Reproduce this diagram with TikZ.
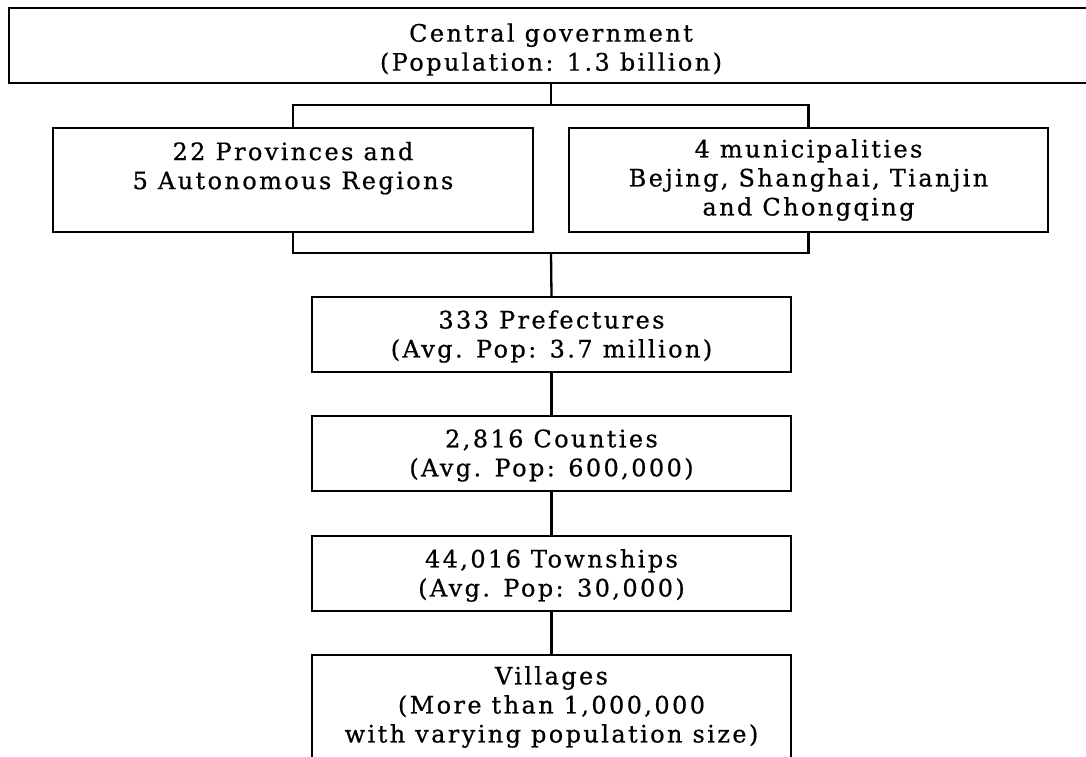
\documentclass[tikz,border=0pt]{standalone}
\usepackage{fontspec}
\setmainfont{DejaVu Serif}[LetterSpace=10,FakeBold=0.6]
\begin{document}
\begin{tikzpicture}[x=1pt,y=-1pt,
  box/.style={draw=black,line width=2.3pt,fill=white,inner sep=0pt},
  txt/.style={align=center,inner sep=0pt,font=\fontsize{24}{29}\selectfont},
  link/.style={draw=black,line width=2.3pt}]
\useasboundingbox (0,0) rectangle (1086,756);
\fill[white] (0,0) rectangle (1086,756);
\clip (0,0) rectangle (1086,756);
\node[box,minimum width=1084pt,minimum height=75pt,
  label={[txt,yshift=-4pt]center:{Central government\\(Population: 1.3 billion)}}] (top) at (551,45.5) {};
\node[box,minimum width=480pt,minimum height=104pt,
  label={[txt]center:{22 Provinces and\\5 Autonomous Regions\\\mbox{}}}] (left) at (293,180) {};
\node[box,minimum width=479pt,minimum height=104pt,
  label={[txt]center:{4 municipalities\\Bejing, Shanghai, Tianjin\\and Chongqing}}] (right) at (808.5,180) {};
\node[box,minimum width=479pt,minimum height=75pt,
  label={[txt,yshift=-2pt]center:{333 Prefectures\\(Avg. Pop: 3.7 million)}}] (pref) at (551.5,334.5) {};
\node[box,minimum width=479pt,minimum height=75pt,
  label={[txt,yshift=-2pt]center:{2,816 Counties\\(Avg. Pop: 600,000)}}] (count) at (551.5,453.5) {};
\node[box,minimum width=479pt,minimum height=75pt,
  label={[txt,yshift=-2pt]center:{44,016 Townships\\(Avg. Pop: 30,000)}}] (town) at (551.5,573.5) {};
\node[box,minimum width=479pt,minimum height=104pt,
  label={[txt]center:{Villages\\(More than 1,000,000\\with varying population size)}}] (vill) at (551.5,707) {};
\coordinate (tj) at (551,105);
\coordinate (bj) at (551,253);
\draw[link] (top.south) -- (tj);
\draw[link] (left.north) |- (tj) -| (right.north);
\draw[link] (left.south) |- (bj) -| (right.south);
\draw[link] (bj) -- (pref.north);
\draw[link] (pref.south) -- (count.north);
\draw[link] (count.south) -- (town.north);
\draw[link] (town.south) -- (vill.north);
\end{tikzpicture}
\end{document}
